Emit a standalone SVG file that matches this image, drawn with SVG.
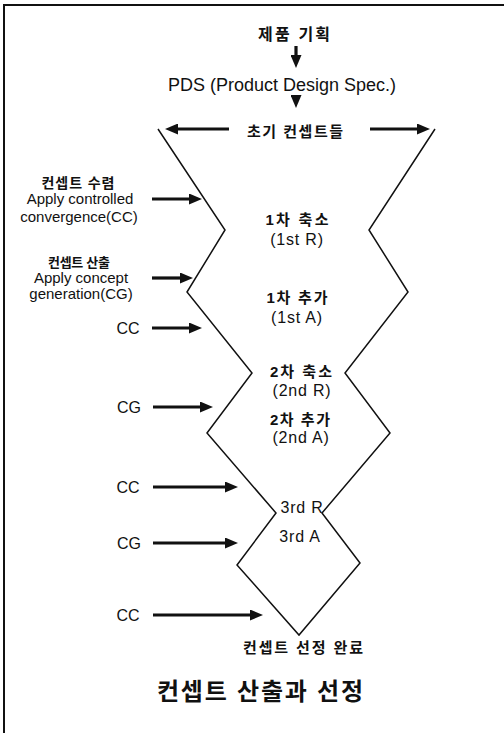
<svg xmlns="http://www.w3.org/2000/svg" width="504" height="733" viewBox="0 0 504 733">
<style>
text{font-family:"Liberation Sans","Noto Sans CJK KR",sans-serif;fill:#111}
.ko{font-weight:bold;font-size:14px}
.lt{font-size:15px;text-anchor:middle}
.cc{font-size:16px;text-anchor:middle}
.in{font-size:16px;text-anchor:middle;letter-spacing:0.8px}
.mid{text-anchor:middle}
.arr{stroke:#111;stroke-width:3.2;fill:none;marker-end:url(#ah)}
.outline{fill:none;stroke:#111;stroke-width:1.5;stroke-linejoin:miter}
</style>
<defs>
<marker id="ah" markerUnits="userSpaceOnUse" markerWidth="13" markerHeight="11" refX="2" refY="5.5" orient="auto">
<path d="M0,0 L13,5.5 L0,11 z" fill="#111"/>
</marker>
</defs>
<rect width="504" height="733" fill="#fff"/>
<path d="M4,733 V5 H504" fill="none" stroke="#111" stroke-width="2"/>

<g id="funnel">
<polyline class="outline" points="158,129 225,230 187,292 252,373 207,433 276,513 237,565 299,635 360,563 322,513 390,433 345,373 408,292 369,230 435,129"/>
</g>

<g id="connectors">
<line class="arr" x1="296" y1="46" x2="296" y2="57"/>
<line class="arr" x1="296" y1="95" x2="296" y2="97"/>
<line class="arr" x1="229" y1="129" x2="176" y2="129"/>
<line class="arr" x1="370" y1="129" x2="419" y2="129"/>
<line class="arr" x1="152" y1="199" x2="191" y2="199"/>
<line class="arr" x1="152" y1="278" x2="182" y2="278"/>
<line class="arr" x1="152" y1="328" x2="191" y2="328"/>
<line class="arr" x1="153" y1="407" x2="202" y2="407"/>
<line class="arr" x1="153" y1="487" x2="227" y2="487"/>
<line class="arr" x1="153" y1="543" x2="227" y2="543"/>
<line class="arr" x1="153" y1="615" x2="252" y2="615"/>
</g>

<g id="n-planning"><text class="ko mid" x="294" y="40" style="font-size:16px" textLength="72">제품 기획</text></g>
<g id="n-pds"><text class="mid" x="282" y="91" font-size="18">PDS (Product Design Spec.)</text></g>
<g id="n-initial"><text class="ko mid" x="295" y="137" textLength="96" style="font-size:15px">초기 컨셉트들</text></g>

<g id="n-legend-cc">
<text class="ko mid" x="78" y="188" textLength="73">컨셉트 수렴</text>
<text class="lt" x="80" y="204">Apply controlled</text>
<text class="lt" x="79" y="222">convergence(CC)</text>
</g>
<g id="n-legend-cg">
<text class="ko mid" x="79" y="267" textLength="62" style="font-size:13px">컨셉트 산출</text>
<text class="lt" x="81" y="283">Apply concept</text>
<text class="lt" x="81" y="299">generation(CG)</text>
</g>

<g id="n-cc1"><text class="cc" x="128" y="334">CC</text></g>
<g id="n-cg1"><text class="cc" x="129" y="413">CG</text></g>
<g id="n-cc2"><text class="cc" x="128" y="493">CC</text></g>
<g id="n-cg2"><text class="cc" x="129" y="549">CG</text></g>
<g id="n-cc3"><text class="cc" x="128" y="621">CC</text></g>

<g id="n-1r">
<text class="mid" x="297" y="225" font-size="15" font-weight="bold" textLength="63">1차 축소</text>
<text class="in" x="297" y="245">(1st R)</text>
</g>
<g id="n-1a">
<text class="mid" x="297" y="303" font-size="15" font-weight="bold" textLength="61">1차 추가</text>
<text class="in" x="297" y="323">(1st A)</text>
</g>
<g id="n-2r">
<text class="mid" x="301" y="377" font-size="15" font-weight="bold" textLength="62">2차 축소</text>
<text class="in" x="302" y="396">(2nd R)</text>
</g>
<g id="n-2a">
<text class="mid" x="300" y="425" font-size="15" font-weight="bold" textLength="60">2차 추가</text>
<text class="in" x="301" y="443">(2nd A)</text>
</g>
<g id="n-3r"><text class="in" x="302" y="513">3rd R</text></g>
<g id="n-3a"><text class="in" x="300" y="542">3rd A</text></g>

<g id="n-done"><text class="ko mid" x="303" y="653" textLength="120" style="font-size:15px">컨셉트 선정 완료</text></g>
<g id="title"><text class="mid" x="260" y="700" font-size="24" font-weight="bold" textLength="206">컨셉트 산출과 선정</text></g>
</svg>
